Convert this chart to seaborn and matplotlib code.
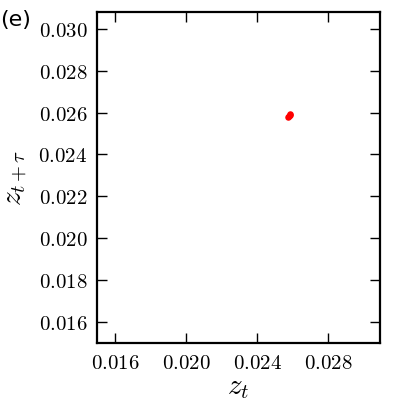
import numpy as np
import matplotlib.pyplot as plt
import seaborn as sns
from matplotlib.ticker import FuncFormatter

# data: a tight cluster of (z_t, z_{t+tau}) points
z_t = [0.02575, 0.02579, 0.02582, 0.02586]
z_t_tau = [0.02581, 0.02585, 0.02589, 0.02593]
x_ticks = [0.016, 0.020, 0.024, 0.028]
y_ticks = [0.016, 0.018, 0.020, 0.022, 0.024, 0.026, 0.028, 0.030]

sns.set_style('ticks')
plt.rcParams['mathtext.fontset'] = 'cm'
plt.rcParams['font.family'] = ['DejaVu Sans']
plt.rcParams['text.color'] = 'black'
plt.rcParams['axes.labelcolor'] = 'black'

fig = plt.figure(figsize=(4, 4), dpi=100)
ax = fig.add_axes([0.2425, 0.1425, 0.7075, 0.8275])

sns.scatterplot(x=z_t, y=z_t_tau, color='red', edgecolor='red', s=22,
                linewidth=0, ax=ax)

ax.set_xlim(0.015, 0.0309)
ax.set_ylim(0.015, 0.0308)
ax.set_xticks(x_ticks)
ax.set_yticks(y_ticks)
fmt = FuncFormatter(lambda v, p: r'$%.3f$' % v)
ax.xaxis.set_major_formatter(fmt)
ax.yaxis.set_major_formatter(fmt)
ax.tick_params(direction='in', length=7, width=1, labelsize=15, pad=7,
               top=True, right=True, colors='black')
for sp in ax.spines.values():
    sp.set_linewidth(1.6)
    sp.set_color('black')

ax.set_xlabel(r'$z_t$', fontsize=21, labelpad=0)
ax.set_ylabel(r'$z_{t+\tau}$', fontsize=21, labelpad=6)
fig.text(0.0, 0.95, '(e)', fontsize=16, ha='left', va='center', color='black')

fig.savefig('out.png', dpi=100)
